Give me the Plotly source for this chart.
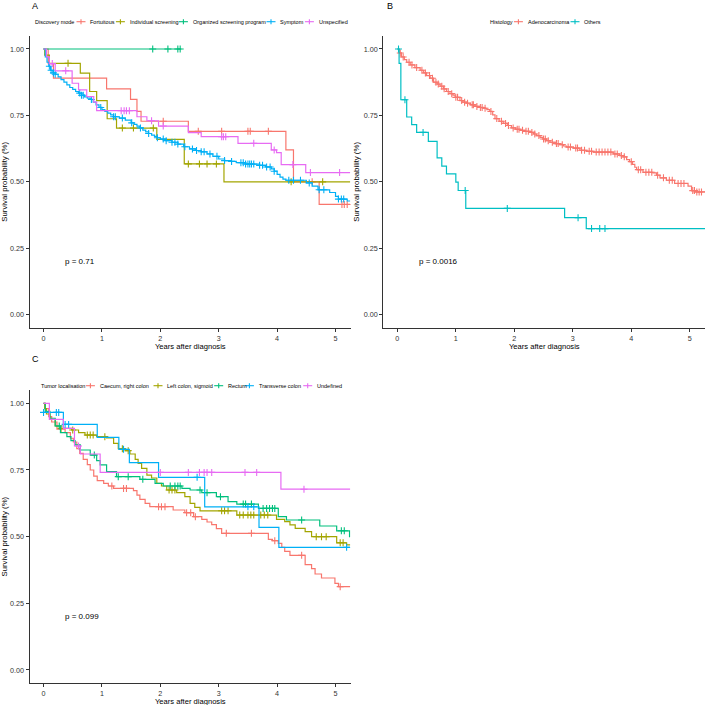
import plotly.graph_objects as go
from bisect import bisect_right

W, H = 709, 705
FONT = "Liberation Sans, Arial, sans-serif"
PAL5 = ["#F8766D", "#A3A500", "#00BF7D", "#00B0F6", "#E76BF3"]
PAL2 = ["#F8766D", "#00BFC4"]
X_TITLE = "Years after diagnosis"
Y_TITLE = "Survival probability (%)"

# ---------------- Panel A : Discovery mode ----------------
A_title = "Discovery mode"
A_names = ["Fortuitous", "Individual screening", "Organized screening program", "Symptom", "Unspecified"]
A_pval = "p = 0.71"

A_fort_t = [0, 0.08, 0.17, 1.08, 1.49, 1.60, 1.67, 2.48, 4.15, 4.28, 4.72]
A_fort_s = [1.0, 0.945, 0.89, 0.85, 0.81, 0.765, 0.728, 0.69, 0.62, 0.50, 0.415]
A_fort_c = [2.05, 2.65, 3.05, 3.5, 3.54, 3.85, 4.6, 5.11, 5.15, 5.2]
A_fort_end = 5.25

A_ind_t = [0, 0.02, 0.1, 0.63, 0.79, 0.91, 1.09, 1.25, 1.94, 2.41, 3.09]
A_ind_s = [1.0, 0.977, 0.946, 0.909, 0.84, 0.806, 0.7375, 0.7025, 0.66, 0.5675, 0.50]
A_ind_c = [0.42, 1.35, 1.54, 1.88, 2.48, 2.67, 2.8, 2.96, 4.24, 4.78]
A_ind_end = 5.25

A_org_t = [0]
A_org_s = [1.0]
A_org_c = [1.87, 2.13, 2.30, 2.34]
A_org_end = 2.35

A_sym_t = [0, 0.03, 0.06, 0.09, 0.12, 0.16, 0.2, 0.25, 0.3, 0.35, 0.4, 0.45, 0.5, 0.55, 0.6,
           0.65, 0.7, 0.75, 0.8, 0.85, 0.9, 0.95, 1.0, 1.05, 1.1, 1.15, 1.2, 1.3, 1.4, 1.5,
           1.55, 1.6, 1.65, 1.7, 1.75, 1.8, 1.85, 1.9, 1.95, 2.0, 2.1, 2.2, 2.3, 2.4, 2.5,
           2.6, 2.7, 2.8, 2.9, 3.0, 3.1, 3.2, 3.3, 3.45, 3.7, 3.8, 3.9, 3.95, 4.0, 4.05,
           4.1, 4.15, 4.5, 4.6, 4.7, 4.9, 5.0, 5.05, 5.2]
A_sym_s = [1.0, 0.97, 0.95, 0.935, 0.92, 0.91, 0.905, 0.895, 0.885, 0.875, 0.865, 0.855, 0.848, 0.84, 0.834,
           0.826, 0.82, 0.815, 0.81, 0.8, 0.79, 0.78, 0.772, 0.765, 0.759, 0.752, 0.745, 0.74, 0.732, 0.722,
           0.716, 0.71, 0.703, 0.695, 0.688, 0.682, 0.676, 0.671, 0.666, 0.661, 0.655, 0.649, 0.642, 0.632, 0.624,
           0.618, 0.613, 0.605, 0.596, 0.586, 0.58, 0.577, 0.572, 0.567, 0.562, 0.556, 0.549, 0.54, 0.528, 0.518,
           0.51, 0.506, 0.496, 0.484, 0.47, 0.46, 0.445, 0.435, 0.428]
A_sym_c = [0.1, 0.13, 0.17, 0.2, 0.62, 0.65, 0.68, 0.82, 0.98, 1.2, 1.23, 1.35, 1.51, 1.66, 1.8, 1.95,
           2.05, 2.1, 2.2, 2.25, 2.3, 2.42, 2.55, 2.62, 2.7, 2.75, 2.85, 2.97, 3.1, 3.22, 3.38, 3.42,
           3.46, 3.5, 3.53, 3.56, 3.6, 3.7, 3.75, 3.82, 3.88, 3.95, 4.2, 4.28, 4.4, 4.55, 4.72, 4.8,
           5.05, 5.1, 5.14]
A_sym_end = 5.25

A_uns_t = [0, 0.05, 0.1, 0.2, 0.49, 0.6, 0.74, 0.86, 0.91, 1.6, 1.77, 1.97, 2.48, 2.7, 3.33, 3.9, 3.99, 4.07, 4.49]
A_uns_s = [1.0, 0.97, 0.945, 0.918, 0.871, 0.846, 0.821, 0.80, 0.768, 0.745, 0.73, 0.71, 0.685, 0.67, 0.645, 0.62, 0.61, 0.565, 0.535]
A_uns_c = [0.15, 0.38, 1.33, 1.38, 1.42, 1.47, 1.85, 2.05, 3.05, 3.08, 3.12, 3.6, 3.95, 4.27, 4.57, 5.07]
A_uns_end = 5.25

# ---------------- Panel B : Histology ----------------
B_title = "Histology"
B_names = ["Adenocarcinoma", "Others"]
B_pval = "p = 0.0016"

B_ade_t = [0, 0.03, 0.07, 0.12, 0.16, 0.22, 0.3, 0.39, 0.45, 0.5, 0.56, 0.62, 0.68, 0.73, 0.79, 0.84,
           0.9, 0.95, 0.99, 1.07, 1.12, 1.18, 1.25, 1.33, 1.4, 1.47, 1.53, 1.58, 1.63, 1.67, 1.74,
           1.81, 1.88, 1.95, 2.02, 2.1, 2.18, 2.27, 2.33, 2.38, 2.44, 2.49, 2.55, 2.61, 2.7, 2.78,
           2.84, 2.89, 3.01, 3.12, 3.23, 3.35, 3.69, 3.8, 3.86, 3.92, 3.97, 4.02, 4.06, 4.09, 4.2,
           4.37, 4.43, 4.49, 4.6, 4.74, 4.97, 5.03, 5.1]
B_ade_s = [1.0, 0.985, 0.97, 0.96, 0.95, 0.94, 0.93, 0.92, 0.91, 0.9, 0.89, 0.875, 0.868, 0.86, 0.85, 0.84,
           0.832, 0.826, 0.818, 0.806, 0.80, 0.796, 0.79, 0.784, 0.78, 0.777, 0.772, 0.765, 0.752, 0.738, 0.728,
           0.72, 0.712, 0.703, 0.698, 0.694, 0.69, 0.686, 0.68, 0.674, 0.667, 0.661, 0.655, 0.649, 0.644, 0.64,
           0.635, 0.631, 0.627, 0.619, 0.615, 0.612, 0.605, 0.599, 0.594, 0.584, 0.576, 0.566, 0.555, 0.546, 0.536,
           0.534, 0.525, 0.515, 0.506, 0.494, 0.484, 0.467, 0.462]
B_ade_c = [0.05, 0.1, 0.2, 0.25, 0.33, 0.42, 0.48, 0.55, 0.6, 0.66, 0.7, 0.76, 0.8, 0.87, 0.93, 1.0,
           1.03, 1.1, 1.15, 1.2, 1.28, 1.3, 1.36, 1.42, 1.45, 1.5, 1.6, 1.7, 1.78, 1.85, 1.9, 1.98,
           2.05, 2.08, 2.14, 2.2, 2.24, 2.3, 2.35, 2.42, 2.5, 2.53, 2.58, 2.65, 2.72, 2.75, 2.82, 2.92,
           2.96, 3.05, 3.08, 3.15, 3.2, 3.28, 3.32, 3.4, 3.45, 3.5, 3.55, 3.6, 3.65, 3.72, 3.76, 3.83,
           3.88, 4.0, 4.12, 4.16, 4.25, 4.3, 4.35, 4.45, 4.55, 4.65, 4.7, 4.8, 4.85, 4.9, 5.05, 5.08,
           5.12, 5.16, 5.2]
B_ade_end = 5.26

B_oth_t = [0, 0.03, 0.06, 0.16, 0.245, 0.33, 0.53, 0.68, 0.76, 0.84, 1.0, 1.04, 1.17, 2.86, 3.23]
B_oth_s = [1.0, 0.946, 0.809, 0.744, 0.715, 0.686, 0.652, 0.59, 0.559, 0.53, 0.499, 0.4675, 0.40, 0.365, 0.324]
B_oth_c = [0.02, 0.13, 0.44, 1.16, 1.88, 3.09, 3.32, 3.46, 3.55]
B_oth_end = 5.26

# ---------------- Panel C : Tumor localisation ----------------
C_title = "Tumor localisation"
C_names = ["Caecum, right colon", "Left colon, sigmoid", "Rectum", "Transverse colon", "Undefined"]
C_pval = "p = 0.099"

C_cae_t = [0, 0.03, 0.09, 0.14, 0.23, 0.37, 0.46, 0.51, 0.57, 0.62, 0.68, 0.75, 0.8, 0.86, 0.92, 1.03,
           1.11, 1.2, 1.54, 1.6, 1.65, 1.74, 1.82, 2.22, 2.42, 2.57, 2.71, 2.8, 2.88, 2.96, 3.05,
           3.85, 3.92, 4.02, 4.08, 4.13, 4.22, 4.48, 4.59, 4.65, 4.76, 4.99, 5.05]
C_cae_s = [1.0, 0.98, 0.95, 0.93, 0.903, 0.89, 0.869, 0.855, 0.83, 0.8125, 0.79, 0.77, 0.75, 0.727, 0.71, 0.70,
           0.69, 0.681, 0.6725, 0.656, 0.64, 0.625, 0.6125, 0.60, 0.59, 0.575, 0.565, 0.555, 0.545, 0.53, 0.5125,
           0.49, 0.485, 0.475, 0.46, 0.445, 0.43, 0.395, 0.38, 0.36, 0.345, 0.325, 0.3125]
C_cae_c = [1.17, 1.37, 1.42, 1.97, 2.02, 2.08, 2.45, 2.52, 2.6, 3.13, 3.56, 3.96, 4.42, 5.08]
C_cae_end = 5.25

C_lef_t = [0, 0.02, 0.05, 0.11, 0.2, 0.29, 0.48, 0.6, 0.71, 0.91, 1.08, 1.2, 1.28, 1.4, 1.48, 1.57,
           1.62, 1.68, 1.77, 1.85, 1.94, 2.02, 2.11, 2.28, 2.42, 2.51, 2.59, 2.68, 3.31, 3.99, 4.13,
           4.22, 4.31, 4.48, 4.59, 5.02, 5.19]
C_lef_s = [1.0, 0.98, 0.96, 0.94, 0.915, 0.906, 0.90, 0.89, 0.881, 0.875, 0.87, 0.85, 0.83, 0.8225, 0.81, 0.79,
           0.775, 0.756, 0.731, 0.72, 0.70, 0.69, 0.675, 0.665, 0.65, 0.625, 0.61, 0.597, 0.581, 0.565, 0.556,
           0.544, 0.531, 0.519, 0.50, 0.477, 0.469]
C_lef_c = [0.3, 0.5, 0.75, 0.8, 0.85, 1.05, 1.35, 1.45, 2.15, 2.2, 2.25, 3.05, 3.1, 3.16, 3.36, 3.42,
           3.5, 3.55, 3.6, 3.72, 3.78, 3.84, 4.67, 4.76, 4.84, 5.08, 5.13]
C_lef_end = 5.25

C_rec_t = [0, 0.03, 0.11, 0.2, 0.29, 0.4, 0.47, 0.54, 0.63, 0.8, 0.91, 0.97, 1.08, 1.25, 1.65, 1.91,
           2.05, 2.37, 2.51, 2.71, 2.96, 3.16, 3.31, 3.68, 4.02, 4.16, 4.73, 5.02, 5.24]
C_rec_s = [1.0, 0.97, 0.944, 0.915, 0.89, 0.875, 0.86, 0.844, 0.825, 0.806, 0.785, 0.769, 0.744, 0.725, 0.715, 0.70,
           0.69, 0.681, 0.675, 0.665, 0.65, 0.631, 0.622, 0.606, 0.575, 0.5625, 0.54, 0.522, 0.50]
C_rec_c = [0.27, 0.87, 1.28, 1.45, 1.7, 2.17, 2.25, 2.3, 2.34, 2.68, 2.8, 3.03, 3.42, 3.46, 3.56, 3.76,
           3.82, 3.87, 3.92, 3.96, 4.42, 5.1, 5.15]
C_rec_end = 5.25

C_tra_t = [0, 0.34, 0.92, 1.29, 1.47, 1.97, 2.76, 3.69, 4.03]
C_tra_s = [0.966, 0.921, 0.8725, 0.8275, 0.7775, 0.7225, 0.612, 0.535, 0.46]
C_tra_c = [0.0, 0.22, 0.26, 0.37, 0.43, 1.37, 2.63, 3.5, 3.6, 5.19]
C_tra_end = 5.25

C_und_t = [0, 0.1, 0.34, 0.53, 0.63, 0.97, 4.065]
C_und_s = [1.0, 0.94, 0.906, 0.84, 0.81, 0.741, 0.678]
C_und_c = [0.6, 2.0, 2.48, 2.67, 2.75, 2.8, 2.88, 3.45, 3.65, 4.46]
C_und_end = 5.25

Y_TICKS = [0, 0.25, 0.5, 0.75, 1.0]
Y_TICKTEXT = ["0.00", "0.25", "0.50", "0.75", "1.00"]
X_TICKS = [0, 1, 2, 3, 4, 5]

fig = go.Figure()


def add_km(t, s, end, cens, color, xa, ya, name):
    assert len(t) == len(s)
    fig.add_trace(go.Scatter(x=list(t) + [end], y=list(s) + [s[-1]], mode="lines",
                             line=dict(color=color, width=1.2, shape="hv"),
                             xaxis=xa, yaxis=ya, name=name, showlegend=False,
                             hoverinfo="skip"))
    cy = [s[bisect_right(t, c) - 1] for c in cens]
    fig.add_trace(go.Scatter(x=cens, y=cy, mode="markers",
                             marker=dict(symbol="cross-thin", size=5, line=dict(color=color, width=1.1)),
                             xaxis=xa, yaxis=ya, name=name, showlegend=False, hoverinfo="skip"))


A_series = [(A_fort_t, A_fort_s, A_fort_end, A_fort_c), (A_ind_t, A_ind_s, A_ind_end, A_ind_c),
            (A_org_t, A_org_s, A_org_end, A_org_c), (A_sym_t, A_sym_s, A_sym_end, A_sym_c),
            (A_uns_t, A_uns_s, A_uns_end, A_uns_c)]
B_series = [(B_ade_t, B_ade_s, B_ade_end, B_ade_c), (B_oth_t, B_oth_s, B_oth_end, B_oth_c)]
C_series = [(C_cae_t, C_cae_s, C_cae_end, C_cae_c), (C_lef_t, C_lef_s, C_lef_end, C_lef_c),
            (C_rec_t, C_rec_s, C_rec_end, C_rec_c), (C_tra_t, C_tra_s, C_tra_end, C_tra_c),
            (C_und_t, C_und_s, C_und_end, C_und_c)]

for (t, s, e, c), col, nm in zip(A_series, PAL5, A_names):
    add_km(t, s, e, c, col, "x", "y", nm)
for (t, s, e, c), col, nm in zip(B_series, PAL2, B_names):
    add_km(t, s, e, c, col, "x2", "y2", nm)
for (t, s, e, c), col, nm in zip(C_series, PAL5, C_names):
    add_km(t, s, e, c, col, "x3", "y3", nm)


def px_x(p):
    return p / W


def px_y(p):
    return 1 - p / H


# panel domains in pixels: (left, right, top, bottom)
PANELS = {"A": (29.5, 350.7, 35.7, 328.0), "B": (383.3, 705.0, 35.7, 328.0), "C": (29.5, 350.7, 390.0, 683.3)}

axis_common = dict(showgrid=False, zeroline=False, showline=True, linecolor="#333333", linewidth=1,
                   ticks="outside", ticklen=3, tickwidth=1, tickcolor="#333333", automargin=False,
                   tickfont=dict(family=FONT, size=7.2, color="#333333"))
layout_axes = {}
annotations = []
shapes = []
for i, key in enumerate(["A", "B", "C"]):
    l, r, tp, b = PANELS[key]
    sfx = "" if i == 0 else str(i + 1)
    layout_axes["xaxis" + sfx] = dict(axis_common, domain=[px_x(l), px_x(r)], range=[-0.24, 5.26],
                                      tickvals=X_TICKS, anchor="y" + sfx)
    layout_axes["yaxis" + sfx] = dict(axis_common, domain=[px_y(b), px_y(tp)], range=[-0.05, 1.05],
                                      tickvals=Y_TICKS, ticktext=Y_TICKTEXT, anchor="x" + sfx,
                                      title=dict(text=Y_TITLE, standoff=3,
                                                 font=dict(family=FONT, size=7.8, color="#000000")))
    # x-axis title placed just below the tick labels
    annotations.append(dict(x=0.5, xref="x" + sfx + " domain", y=px_y(b + 18.5), yref="paper",
                            text=X_TITLE, showarrow=False, xanchor="center", yanchor="middle",
                            borderpad=0, font=dict(family=FONT, size=7.6, color="#000000")))

# p-values
for sfx, txt in [("", A_pval), ("2", B_pval), ("3", C_pval)]:
    annotations.append(dict(x=0.33, y=0.2, xref="x" + sfx, yref="y" + sfx, text=txt, showarrow=False,
                            xanchor="left", yanchor="middle", font=dict(family=FONT, size=8, color="#000000")))
# panel letters
for letter, (lx, ly) in {"A": (29.5, 6), "B": (384.5, 6), "C": (29.5, 359)}.items():
    annotations.append(dict(x=px_x(lx), y=px_y(ly), xref="paper", yref="paper", text=letter, showarrow=False,
                            xanchor="left", yanchor="middle", font=dict(family=FONT, size=9, color="#000000")))

# legends (title x, row y, text starts) in pixels
LEG = [
    (A_title, A_names, PAL5, 33.3, 21.7, [88.3, 127.7, 190.7, 278.3, 316.7]),
    (B_title, B_names, PAL2, 488.3, 21.7, [525.7, 582.3]),
    (C_title, C_names, PAL5, 39.3, 385.7, [97.7, 165.3, 226.0, 256.7, 315.0]),
]
LFS = 5.5
for title, names, cols, tx, ty, starts in LEG:
    annotations.append(dict(x=px_x(tx), y=px_y(ty), xref="paper", yref="paper", text=title, showarrow=False,
                            xanchor="left", yanchor="middle", font=dict(family=FONT, size=LFS, color="#000000")))
    for nm, col, sx in zip(names, cols, starts):
        annotations.append(dict(x=px_x(sx), y=px_y(ty), xref="paper", yref="paper", text=nm, showarrow=False,
                                xanchor="left", yanchor="middle",
                                font=dict(family=FONT, size=LFS, color="#000000")))
        cx = sx - 7.3
        shapes.append(dict(type="line", xref="paper", yref="paper", x0=px_x(cx - 4.5), x1=px_x(cx + 4.5),
                           y0=px_y(ty), y1=px_y(ty), line=dict(color=col, width=1.1)))
        shapes.append(dict(type="line", xref="paper", yref="paper", x0=px_x(cx), x1=px_x(cx),
                           y0=px_y(ty - 2.5), y1=px_y(ty + 2.5), line=dict(color=col, width=1.1)))

fig.update_layout(width=W, height=H, margin=dict(l=0, r=0, t=0, b=0), paper_bgcolor="white",
                  plot_bgcolor="white", showlegend=False, annotations=annotations, shapes=shapes,
                  font=dict(family=FONT), **layout_axes)

fig.write_html("out.html")
